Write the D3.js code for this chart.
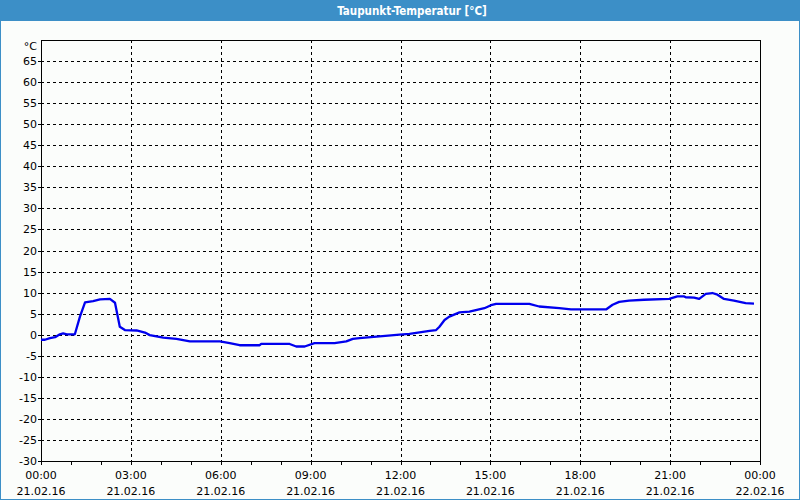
<!DOCTYPE html>
<html><head><meta charset="utf-8">
<script src="https://cdn.jsdelivr.net/npm/d3@7"></script>
<style>html,body{margin:0;padding:0;background:#fbfdfb;}svg{display:block;}</style>
</head><body>
<script>
const title = "Taupunkt-Temperatur [°C]";
const unitLabel = "°C";
const hours = [0,0.13,0.3,0.47,0.63,0.74,0.86,1.13,1.3,1.47,1.74,1.97,2.3,2.47,2.54,2.63,2.8,3.19,3.47,3.63,4.08,4.52,4.97,5.97,6.3,6.63,7.3,7.35,8.3,8.52,8.8,9.13,9.8,10.19,10.41,10.63,11.3,11.97,12.3,12.97,13.19,13.3,13.47,13.63,13.97,14.3,14.8,15.02,15.19,16.3,16.63,17.3,17.69,18.86,19.08,19.3,19.63,20.13,20.97,21.24,21.47,21.52,21.8,21.97,22.19,22.41,22.58,22.8,23.13,23.52,23.8];
const values = [-1.2,-1.2,-0.8,-0.6,0.1,0.3,0.1,0.1,4.3,7.7,8.0,8.4,8.5,7.6,5.1,1.9,1.1,1.0,0.5,-0.1,-0.7,-1.0,-1.6,-1.6,-2.0,-2.5,-2.5,-2.2,-2.2,-2.8,-2.8,-2.0,-2.0,-1.6,-1.0,-0.8,-0.4,0,0.2,0.9,1.1,1.9,3.5,4.3,5.3,5.5,6.3,7.0,7.3,7.3,6.7,6.3,6.0,6.0,7.1,7.8,8.1,8.3,8.5,9.1,9.1,8.9,8.8,8.5,9.7,9.9,9.5,8.5,8.1,7.5,7.4];
const yTicks = [-30,-25,-20,-15,-10,-5,0,5,10,15,20,25,30,35,40,45,50,55,60,65];
const xTickHours = [0,3,6,9,12,15,18,21,24];
const xTimeLabels = ["00:00","03:00","06:00","09:00","12:00","15:00","18:00","21:00","00:00"];
const xDateLabels = ["21.02.16","21.02.16","21.02.16","21.02.16","21.02.16","21.02.16","21.02.16","21.02.16","22.02.16"];

const W=800,H=500;
const L=41,R=760,T=40,B=461;
const svg=d3.select("body").append("svg").attr("width",W).attr("height",H);
svg.append("rect").attr("width",W).attr("height",H).attr("fill","#fbfdfb");
// frame
svg.append("rect").attr("x",0).attr("y",0).attr("width",W).attr("height",21).attr("fill","#3c8fc7");
svg.append("rect").attr("x",0.5).attr("y",0.5).attr("width",W-1).attr("height",H-1).attr("fill","none").attr("stroke","#3c8fc7");
svg.append("text").attr("x",412).attr("y",15).attr("text-anchor","middle").attr("fill","#fff")
  .attr("font-family","DejaVu Sans Condensed, DejaVu Sans").attr("font-weight","bold").attr("font-size","11.5px").text(title);

const x=d3.scaleLinear().domain([0,24]).range([L,R]);
const y=d3.scaleLinear().domain([-30,70]).range([B,T]);
const g=svg.append("g").attr("shape-rendering","crispEdges");
// grid
g.selectAll(".hg").data(yTicks.filter(v=>v>-30)).enter().append("line")
  .attr("x1",L).attr("x2",R).attr("y1",d=>Math.round(y(d))+0.5).attr("y2",d=>Math.round(y(d))+0.5)
  .attr("stroke","#000").attr("stroke-dasharray","3,3");
g.selectAll(".vg").data(xTickHours.filter(h=>h>0&&h<24)).enter().append("line")
  .attr("x1",d=>Math.round(x(d))+0.5).attr("x2",d=>Math.round(x(d))+0.5).attr("y1",T).attr("y2",B)
  .attr("stroke","#000").attr("stroke-dasharray","3,3");
// border
g.append("rect").attr("x",L+0.5).attr("y",T+0.5).attr("width",R-L).attr("height",B-T).attr("fill","none").attr("stroke","#000");
// y ticks
g.selectAll(".yt").data(yTicks).enter().append("line")
  .attr("x1",L-3).attr("x2",L).attr("y1",d=>Math.round(y(d))+0.5).attr("y2",d=>Math.round(y(d))+0.5).attr("stroke","#000");
// x minor ticks
g.selectAll(".xt").data(d3.range(0,25)).enter().append("line")
  .attr("x1",d=>Math.round(x(d))+0.5).attr("x2",d=>Math.round(x(d))+0.5).attr("y1",B).attr("y2",B+4).attr("stroke","#000");

const font="Verdana, DejaVu Sans";
svg.selectAll(".yl").data(yTicks).enter().append("text")
  .attr("x",37).attr("y",d=>y(d)+4).attr("text-anchor","end").attr("font-family",font).attr("font-size","11px").attr("fill","#000").text(d=>d);
svg.append("text").attr("x",37).attr("y",y(70)+10).attr("text-anchor","end").attr("font-family",font).attr("font-size","11px").text(unitLabel);
svg.selectAll(".xl").data(xTickHours).enter().append("text")
  .attr("x",d=>x(d)).attr("y",479).attr("text-anchor","middle").attr("font-family",font).attr("font-size","11px").text((d,i)=>xTimeLabels[i]);
svg.selectAll(".xd").data(xTickHours).enter().append("text")
  .attr("x",d=>x(d)).attr("y",495).attr("text-anchor","middle").attr("font-family",font).attr("font-size","11px").text((d,i)=>xDateLabels[i]);

const pts=hours.map((h,i)=>[h,values[i]]);
svg.append("path").datum(pts).attr("fill","none").attr("stroke","#0000ee").attr("stroke-width",2.3)
  .attr("stroke-linejoin","round").attr("d",d3.line().x(d=>x(d[0])).y(d=>y(d[1])));
</script>
</body></html>
